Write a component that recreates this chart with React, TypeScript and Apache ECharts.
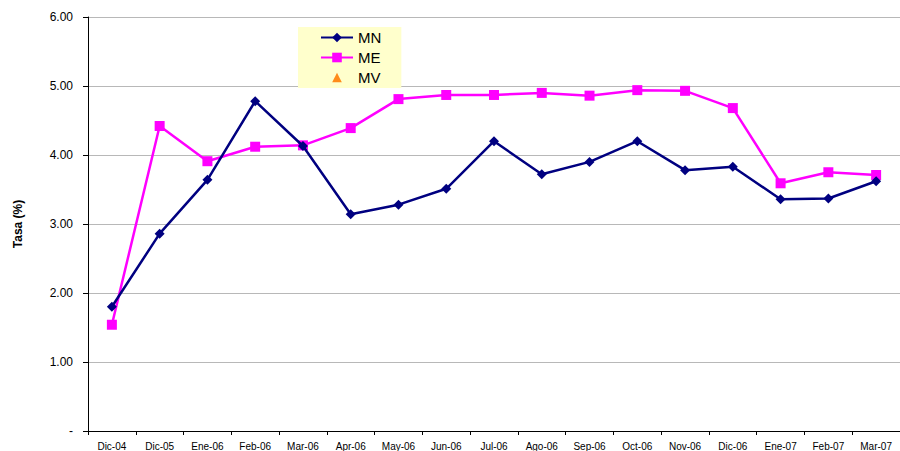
import React, { useEffect, useRef } from "react";
import * as echarts from "echarts";

const categories = ["Dic-04", "Dic-05", "Ene-06", "Feb-06", "Mar-06", "Apr-06", "May-06", "Jun-06", "Jul-06", "Ago-06", "Sep-06", "Oct-06", "Nov-06", "Dic-06", "Ene-07", "Feb-07", "Mar-07"];
const mnValues = [1.80, 2.86, 3.64, 4.78, 4.13, 3.14, 3.28, 3.51, 4.20, 3.72, 3.90, 4.20, 3.78, 3.83, 3.36, 3.37, 3.62];
const meValues = [1.54, 4.42, 3.91, 4.12, 4.14, 4.39, 4.81, 4.87, 4.87, 4.90, 4.86, 4.94, 4.93, 4.68, 3.59, 3.75, 3.71];
const mvValues: (number | null)[] = categories.map(() => null);

export default function App() {
  const ref = useRef<HTMLDivElement>(null);
  useEffect(() => {
    if (!ref.current) return;
    const chart = echarts.init(ref.current, null, { renderer: "svg" });
    chart.setOption({
      animation: false,
      backgroundColor: "#ffffff",
      textStyle: { fontFamily: "Liberation Sans, Arial, sans-serif" },
      grid: { left: 88, top: 17, right: 0, bottom: 20, containLabel: false },
      legend: {
        left: 298,
        top: 27,
        orient: "vertical",
        backgroundColor: "#FFFFCC",
        padding: [3, 20, 3, 22],
        itemGap: 5,
        itemWidth: 32,
        itemHeight: 12,
        textStyle: { fontSize: 15, lineHeight: 14, color: "#000", fontFamily: "Liberation Sans, Arial, sans-serif" },
        data: ["MN", "ME", "MV"],
      },
      xAxis: {
        type: "category",
        data: categories,
        boundaryGap: true,
        axisLine: { lineStyle: { color: "#000", width: 1 } },
        axisTick: { show: true, alignWithLabel: false, length: 4, lineStyle: { color: "#000" } },
        axisLabel: { fontSize: 10, color: "#000", margin: 10, interval: 0 },
        splitLine: { show: false },
      },
      yAxis: {
        type: "value",
        min: 0,
        max: 6,
        interval: 1,
        name: "Tasa (%)",
        nameLocation: "middle",
        nameGap: 64,
        nameRotate: 90,
        nameTextStyle: { fontSize: 12, fontWeight: "bold", color: "#000" },
        axisLine: { show: true, lineStyle: { color: "#000", width: 1 } },
        axisTick: { show: true, length: 5, lineStyle: { color: "#000" } },
        axisLabel: {
          fontSize: 12,
          color: "#000",
          margin: 15,
          formatter: (v: number) => (v === 0 ? "-" : v.toFixed(2)),
        },
        splitLine: { show: true, lineStyle: { color: "#b8b8b8", width: 1 } },
      },
      series: [
        {
          name: "MN",
          type: "line",
          data: mnValues,
          symbol: "diamond",
          symbolSize: 10,
          color: "#000080",
          lineStyle: { width: 2.5, color: "#000080" },
          itemStyle: { color: "#000080" },
          z: 3,
        },
        {
          name: "ME",
          type: "line",
          data: meValues,
          symbol: "rect",
          symbolSize: 10,
          color: "#FF00FF",
          lineStyle: { width: 2.5, color: "#FF00FF" },
          itemStyle: { color: "#FF00FF" },
          z: 2,
        },
        {
          name: "MV",
          type: "line",
          data: mvValues,
          symbol: "triangle",
          symbolSize: 10,
          color: "#FF6600",
          lineStyle: { width: 0, opacity: 0 },
          itemStyle: { color: "#FF8C1A", borderColor: "#FF6600" },
        },
      ],
    });
    return () => chart.dispose();
  }, []);
  return <div ref={ref} style={{ position: "fixed", left: 0, top: 0, width: 900, height: 451 }} />;
}
